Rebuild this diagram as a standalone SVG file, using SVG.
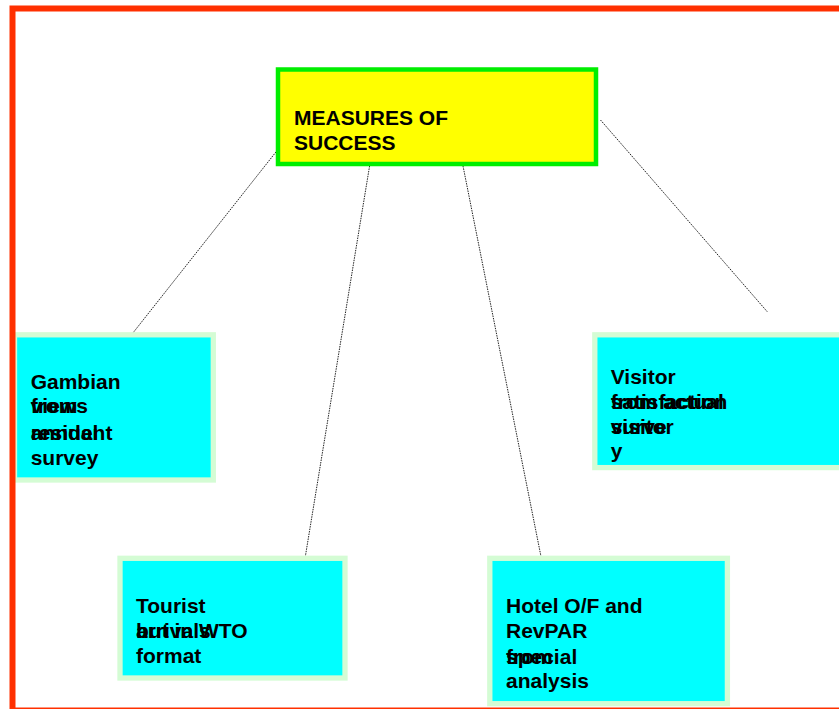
<svg xmlns="http://www.w3.org/2000/svg" width="839" height="709" viewBox="0 0 839 709">
<style>
.t{font-family:"Liberation Sans",Arial,sans-serif;font-weight:bold;font-size:21px;fill:#000}
.box{fill:#00ffff;stroke:#d4fcd4;stroke-width:5.3}
.con{stroke:#222;stroke-width:1;stroke-dasharray:1.5 1;fill:none}
</style>
<rect width="839" height="709" fill="#fff"/>
<g id="connectors">
<line class="con" x1="277.5" y1="150" x2="132.5" y2="333.5"/>
<line class="con" x1="370" y1="163.5" x2="305" y2="558.5"/>
<line class="con" x1="462.5" y1="163.5" x2="541" y2="556.5"/>
<line class="con" x1="600.5" y1="120" x2="767.5" y2="312"/>
</g>
<g id="measures">
<rect x="278" y="69.5" width="318" height="94.5" fill="#ffff00" stroke="#00ee00" stroke-width="4.5"/>
<text class="t" x="294" y="125">MEASURES OF</text>
<text class="t" x="294" y="150">SUCCESS</text>
</g>
<g id="gambian">
<rect class="box" x="14.5" y="334.8" width="198.8" height="145.2"/>
<text class="t" x="30.7" y="388.7">Gambian</text>
<text class="t" x="30.7" y="413">from</text>
<text class="t" x="30.7" y="413">views</text>
<text class="t" x="30.7" y="440.3">annual</text>
<text class="t" x="30.7" y="440.3">resident</text>
<text class="t" x="30.7" y="464.7">survey</text>
</g>
<g id="visitor">
<rect class="box" x="594.8" y="334.8" width="260" height="132.8"/>
<text class="t" x="610.7" y="384">Visitor</text>
<text class="t" x="610.7" y="409.3">satisfaction</text>
<text class="t" x="610.7" y="409.3">from actual</text>
<text class="t" x="610.7" y="434">visitor</text>
<text class="t" x="610.7" y="434">surve</text>
<text class="t" x="610.7" y="457.5">y</text>
</g>
<g id="tourist">
<rect class="box" x="120" y="558.3" width="225" height="119.7"/>
<text class="t" x="136" y="612.7">Tourist</text>
<text class="t" x="136" y="638.3">arrivals</text>
<text class="t" x="136" y="638.3">but in WTO</text>
<text class="t" x="136" y="663.3">format</text>
</g>
<g id="hotel">
<rect class="box" x="489.8" y="558.3" width="237.6" height="145.4"/>
<text class="t" x="506" y="613.3">Hotel O/F and</text>
<text class="t" x="506" y="638.3">RevPAR</text>
<text class="t" x="506" y="664">from</text>
<text class="t" x="506" y="664">special</text>
<text class="t" x="506" y="688.3">analysis</text>
</g>
<rect id="frame" x="12.5" y="8.5" width="900" height="702" fill="none" stroke="#ff3000" stroke-width="6"/>
</svg>
